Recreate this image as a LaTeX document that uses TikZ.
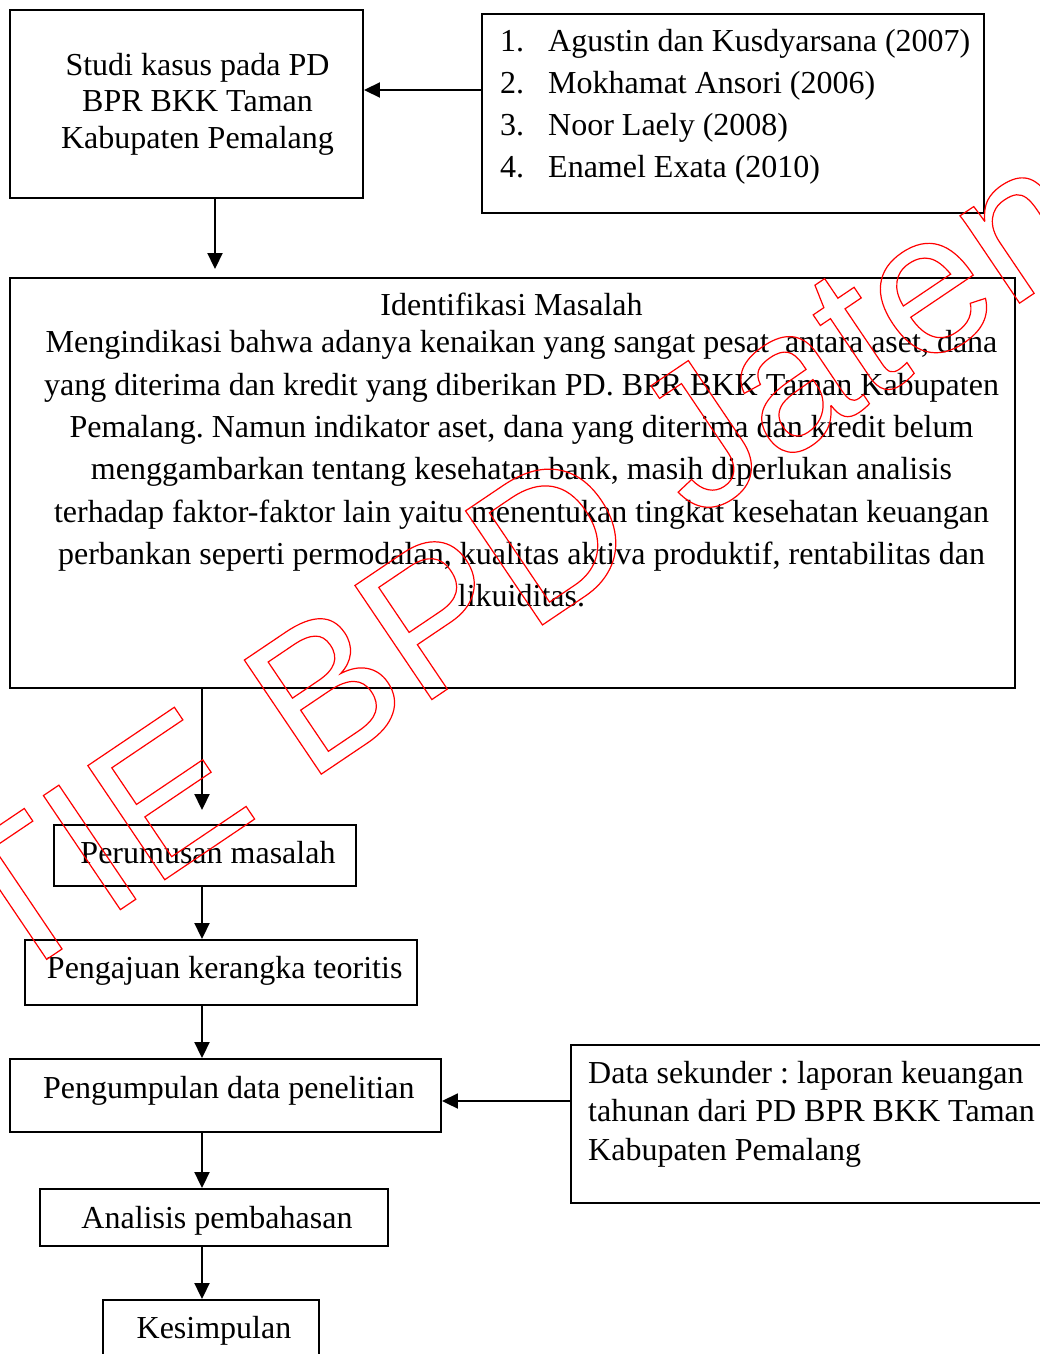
\documentclass[tikz,border=0pt]{standalone}
\usepackage{fontspec}
\setmainfont{Liberation Serif}
\newfontfamily\wmfont{Liberation Sans}
\usetikzlibrary{arrows.meta}
\frenchspacing
\begin{document}
\begin{tikzpicture}[x=1pt,y=-1pt,
  box/.style={draw, line width=1.9pt, inner sep=0pt, rectangle},
  txt/.style={inner sep=0pt, font=\fontsize{32}{38}\selectfont},
  arr/.style={line width=1.9pt, -{Triangle[width=15pt,length=16pt]}},
  wm/.style={inner sep=0pt, text=red, font=\wmfont\fontsize{200}{200}\selectfont}
]
\useasboundingbox (0,0) rectangle (1040,1354);

% boxes
\node[box, minimum width=353pt, minimum height=188pt] (studi) at (186.5,104) {};
\node[box, minimum width=502pt, minimum height=199pt] (list) at (733,113.5) {};
\node[box, minimum width=1005pt, minimum height=410pt] (ident) at (512.5,483) {};
\node[box, minimum width=302pt, minimum height=61pt] (per) at (205,855.5) {};
\node[box, minimum width=392pt, minimum height=65pt] (peng) at (221,972.5) {};
\node[box, minimum width=431pt, minimum height=73pt] (pump) at (225.5,1095.5) {};
\node[box, minimum width=471pt, minimum height=158pt] (data) at (806.5,1124) {};
\node[box, minimum width=348pt, minimum height=57pt] (anal) at (214,1217.5) {};
\node[box, minimum width=216pt, minimum height=65pt] (kes) at (211,1332.5) {};

% texts
\node[txt, anchor=base] (s1) at (197.5,75) {Studi kasus pada PD};
\node[txt, anchor=base] (s2) at (197.5,111.7) {BPR BKK Taman};
\node[txt, anchor=base] (s3) at (197.5,148.3) {Kabupaten Pemalang};

\node[txt, anchor=base west] (l1) at (500,51.7) {\makebox[48pt][l]{1.}Agustin dan Kusdyarsana (2007)};
\node[txt, anchor=base west] (l2) at (500,93.7) {\makebox[48pt][l]{2.}Mokhamat Ansori (2006)};
\node[txt, anchor=base west] (l3) at (500,135.7) {\makebox[48pt][l]{3.}Noor Laely (2008)};
\node[txt, anchor=base west] (l4) at (500,177.7) {\makebox[48pt][l]{4.}Enamel Exata (2010)};

\node[txt, anchor=base] (it) at (511.5,315) {Identifikasi Masalah};
\node[txt, anchor=base] (i1) at (521.5,352.7) {Mengindikasi bahwa adanya kenaikan yang sangat pesat~ antara aset, dana};
\node[txt, anchor=base] (i2) at (521.5,395.05) {yang diterima dan kredit yang diberikan PD. BPR BKK Taman Kabupaten};
\node[txt, anchor=base] (i3) at (521.5,437.4) {Pemalang. Namun indikator aset, dana yang diterima dan kredit belum};
\node[txt, anchor=base] (i4) at (521.5,479.75) {menggambarkan tentang kesehatan bank, masih diperlukan analisis};
\node[txt, anchor=base] (i5) at (521.5,522.1) {terhadap faktor-faktor lain yaitu menentukan tingkat kesehatan keuangan};
\node[txt, anchor=base] (i6) at (521.5,564.45) {perbankan seperti permodalan, kualitas aktiva produktif, rentabilitas dan};
\node[txt, anchor=base] (i7) at (521.5,606.8) {likuiditas.};

\node[txt, anchor=base] (pt) at (208,863.3) {Perumusan masalah};
\node[txt, anchor=base] (gt) at (224.7,978.3) {Pengajuan kerangka teoritis};
\node[txt, anchor=base] (ut) at (228.8,1098) {Pengumpulan data penelitian};
\node[txt, anchor=base] (at) at (217,1228) {Analisis pembahasan};
\node[txt, anchor=base] (kt) at (214,1338) {Kesimpulan};

\node[txt, anchor=base west] (d1) at (588,1083.3) {Data sekunder : laporan keuangan};
\node[txt, anchor=base west] (d2) at (588,1121.7) {tahunan dari PD BPR BKK Taman};
\node[txt, anchor=base west] (d3) at (588,1160) {Kabupaten Pemalang};

% connectors
\coordinate (ay1) at (0,90);
\coordinate (ay2) at (0,1101);
\coordinate (ax1) at (215,0);
\coordinate (ax2) at (202,0);
\draw[arr] (list.west |- ay1) -- (studi.east |- ay1);
\draw[arr, shorten >=8pt] (studi.south -| ax1) -- (ident.north -| ax1);
\draw[arr, shorten >=14pt] (ident.south -| ax2) -- (per.north -| ax2);
\draw[arr] (per.south -| ax2) -- (peng.north -| ax2);
\draw[arr] (peng.south -| ax2) -- (pump.north -| ax2);
\draw[arr] (pump.south -| ax2) -- (anal.north -| ax2);
\draw[arr] (anal.south -| ax2) -- (kes.north -| ax2);
\draw[arr] (data.west |- ay2) -- (pump.east |- ay2);

% watermark
\node[wm, rotate=34, anchor=base west] (wmark) at (-107,1063)
  {\special{pdf:literal direct 1 Tr 1.2 w}STIE BPD Jateng\special{pdf:literal direct 0 Tr}};
\end{tikzpicture}
\end{document}
